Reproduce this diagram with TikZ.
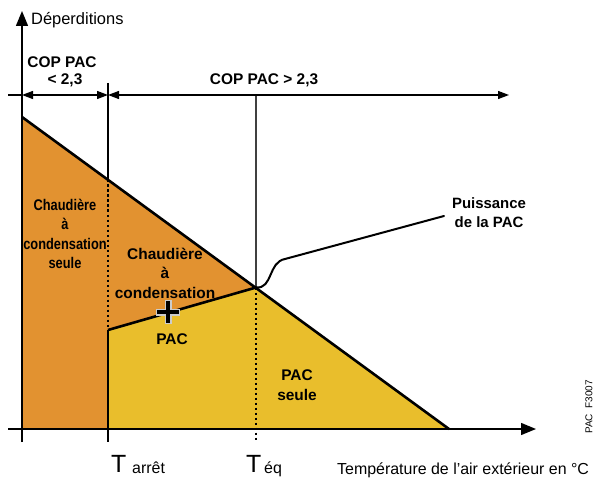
\documentclass[tikz,border=0pt]{standalone}
\usepackage{fontspec}
\setmainfont{Liberation Sans}
\usetikzlibrary{arrows.meta}
\definecolor{orangeC}{RGB}{226,146,48}
\definecolor{yellowC}{RGB}{233,190,44}
\tikzset{
  axis/.style={line width=1.4bp,-{Triangle[length=15bp,width=12bp]}},
  span/.style={line width=1.3bp,{Triangle[length=11bp,width=8bp]}-{Triangle[length=11bp,width=8bp]}},
  thinv/.style={line width=1.1bp},
  guide/.style={line width=1.3bp,color=black!75},
  dotv/.style={line width=1.1bp,dash pattern=on 2.5bp off 2.5bp},
  thick line/.style={line width=2.6bp,line join=round},
  lbl/.style={inner sep=0pt,font=\fontsize{15.5}{19.4}\selectfont\bfseries,align=center},
  txt/.style={inner sep=0pt,font=\fontsize{16}{19}\selectfont},
  bigT/.style={inner sep=0pt,anchor=base west,font=\fontsize{25}{25}\selectfont},
}
\begin{document}
\begin{tikzpicture}[x=1bp,y=-1bp]
\useasboundingbox (0,0) rectangle (595,478);
% coordinates
\coordinate (A) at (22,117);
\coordinate (Bt) at (108,179.5);
\coordinate (P) at (108,330);
\coordinate (E) at (256,287.5);
\coordinate (F) at (449,429);
\coordinate (O) at (22,429);
\coordinate (Pb) at (108,429);
% fills
\fill[orangeC] (A) -- (E) -- (P) -- (Pb) -- (O) -- cycle;
\fill[yellowC] (P) -- (E) -- (F) -- (Pb) -- cycle;
% vertical guides
\coordinate (Vtop1) at (108,83);
\coordinate (Vbot1) at (108,442);
\coordinate (Vtop2) at (256,95);
\coordinate (Vbot2) at (256,441);
\draw[thinv] (Vtop1) -- (Bt);
\draw[dotv] (Bt) -- (P);
\draw[thinv] (P) -- (Vbot1);
\draw[guide] (Vtop2) -- (E);
\draw[dotv] (E) -- (Vbot2);
% axes
\coordinate (Yb) at (22,442);
\coordinate (Yt) at (22,11);
\coordinate (Xl) at (8,429);
\coordinate (Xr) at (536,429);
\draw[axis] (Yb) -- (Yt);
\draw[axis] (Xl) -- (Xr);
% COP line
\coordinate (Cl) at (8,95);
\coordinate (C0) at (22,95);
\coordinate (C1) at (108,95);
\coordinate (C2) at (509,95);
\draw[line width=1.3bp] (Cl) -- (C0);
\draw[span] (C0) -- (C1);
\draw[span] (C1) -- (C2);
% thick lines
\draw[thick line] (A) -- (F);
\draw[thick line] (P) -- (E);
% leader
\coordinate (L1) at (285,259);
\coordinate (L2) at (444,216);
\draw[line width=2bp,line cap=round] (E) .. controls (273,289) and (268,262) .. (L1) -- (L2);
% plus sign
\draw[line width=7bp,black!20] (156,312) -- (180,312) (168,300) -- (168,324);
\draw[line width=4.2bp,black] (157,312) -- (179,312) (168,301) -- (168,323);
% texts
\node[txt,anchor=base west,font=\fontsize{16.5}{19}\selectfont] (dep) at (31,25) {Déperditions};
\node[lbl] (cop1a) at (62,62) {COP PAC};
\node[lbl] (cop1b) at (65,80) {< 2,3};
\node[lbl] (cop2) at (264,80) {COP PAC > 2,3};
\node[lbl,xscale=0.83] (chs) at (65,234) {Chaudière\\à\\condensation\\seule};
\node[lbl,font=\fontsize{15.5}{19.6}\selectfont\bfseries] (chc) at (165,273) {Chaudière\\à\\condensation};
\node[lbl] (pac) at (172,339) {PAC};
\node[lbl,font=\fontsize{15.5}{20}\selectfont\bfseries] (pacs) at (297,385) {PAC\\seule};
\node[lbl,font=\fontsize{15}{19}\selectfont\bfseries] (puis) at (489,212.5) {Puissance\\de la PAC};
\node[bigT] (T1) at (111,472.5) {T};
\node[txt,anchor=base west] (arr) at (132,473.5) {arrêt};
\node[bigT] (T2) at (246,472.5) {T};
\node[txt,anchor=base west] (eq) at (264,473.5) {éq};
\node[txt,anchor=base west] (temp) at (337,474) {Température de l’air extérieur en °C};
\node[inner sep=0pt,rotate=90,font=\fontsize{10}{10}\selectfont] (ref) at (589,407) {PAC\ \ F3007};
\end{tikzpicture}
\end{document}
